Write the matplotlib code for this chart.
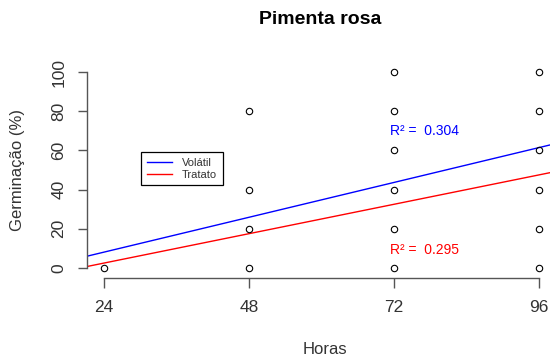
import matplotlib.pyplot as plt
import numpy as np

plt.rcParams['font.family'] = ['Liberation Sans', 'DejaVu Sans']

# germination (%) observed at each time, open circles
horas = [24, 48, 48, 48, 48,
         72, 72, 72, 72, 72, 72,
         96, 96, 96, 96, 96, 96]
germinacao = [0, 0, 20, 40, 80,
              0, 20, 40, 60, 80, 100,
              0, 20, 40, 60, 80, 100]

# fitted lines (intercept, slope) and R2 for each treatment
series = ['Volátil', 'Tratato']
intercepts = [-9.7, -12.5]
slopes = [0.741, 0.625]
r2 = [0.304, 0.295]
r2_pos = [(71.35, 69.9), (71.35, 9.2)]
cores = ['blue', 'red']

xticks = [24, 48, 72, 96]
yticks = [0, 20, 40, 60, 80, 100]

W, H = 550, 358
fig = plt.figure(figsize=(W / 100, H / 100), dpi=100)
# plot region runs slightly past the right edge of the image
ax = fig.add_axes([86.6 / W, 1 - 275.8 / H, (556.4 - 86.6) / W, (275.8 - 64.2) / H])

xlim = (24 - 72 * 0.04, 96 + 72 * 0.04)
ax.set_xlim(xlim)
ax.set_ylim(-4, 104)

ax.plot(horas, germinacao, 'o', mfc='none', mec='black', ms=4.6, mew=0.8,
        clip_on=False, zorder=3)

xx = np.array(xlim)
for nome, a, b, c in zip(series, intercepts, slopes, cores):
    ax.plot(xx, a + b * xx, color=c, lw=1, label=nome)

for val, (tx, ty), c in zip(r2, r2_pos, cores):
    ax.text(tx, ty, 'R² =  %.3f' % val, color=c, fontsize=10,
            ha='left', va='center')

# R style axes: only the range of the ticks is drawn
for s in ['top', 'right']:
    ax.spines[s].set_visible(False)
ax.spines['left'].set_bounds(0, 100)
ax.spines['bottom'].set_bounds(24, 96)
ax.spines['bottom'].set_position(('outward', 1.5))
for s in ['left', 'bottom']:
    ax.spines[s].set_color('#555555')
    ax.spines[s].set_linewidth(1)

ax.set_xticks(xticks)
ax.set_xticklabels([str(t) for t in xticks])
ax.set_yticks(yticks)
ax.set_yticklabels([str(t) for t in yticks], rotation=90, va='center')
ax.tick_params(axis='both', colors='#555555', labelcolor='#333333',
               labelsize=12.5, width=1)
ax.tick_params(axis='y', length=6.5, pad=8)
ax.tick_params(axis='x', length=7, pad=9)

leg = ax.legend(loc='upper left', bbox_to_anchor=(141 / W, 1 - 152 / H),
                bbox_transform=fig.transFigure, borderaxespad=0,
                fontsize=8, handlelength=2.3, handletextpad=0.9,
                labelspacing=0.2, borderpad=0.5, fancybox=False,
                framealpha=1, edgecolor='black')
leg.get_frame().set_linewidth(0.9)
for t in leg.get_texts():
    t.set_color('#333333')

fig.text(320 / W, 1 - 20 / H, 'Pimenta rosa', fontsize=14, fontweight='bold',
         ha='center', va='center')
fig.text(325 / W, 1 - 349 / H, 'Horas', fontsize=12, color='#333333',
         ha='center', va='center')
fig.text(18 / W, 1 - 170 / H, 'Germinação (%)', fontsize=12, color='#333333',
         rotation=90, ha='center', va='center')

fig.savefig('out.png', dpi=100)
